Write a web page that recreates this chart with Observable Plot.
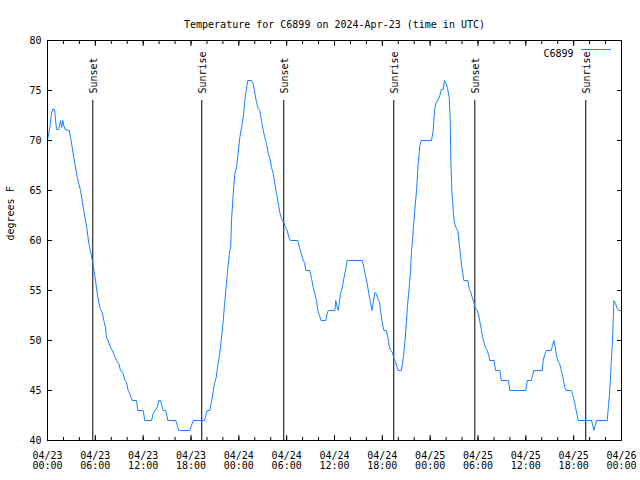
<!DOCTYPE html>
<html>
<head>
<meta charset="utf-8">
<script src="https://cdn.jsdelivr.net/npm/d3@7"></script>
<script src="https://cdn.jsdelivr.net/npm/@observablehq/plot@0.6"></script>
<style>
  html, body { margin: 0; padding: 0; background: #fff; }
</style>
</head>
<body>
<div id="chart"></div>
<script>
const titleText = "Temperature for C6899 on 2024-Apr-23 (time in UTC)";
const yLabel = "degrees F";
const seriesName = "C6899";
const startTime = "2024-04-23T00:00:00Z";
const endTime = "2024-04-26T00:00:00Z";

// hours since 2024-04-23 00:00 UTC
const hours = [0.04,0.29,0.50,0.63,0.88,1.13,1.42,1.63,1.79,1.92,2.04,2.22,2.72,2.89,3.10,3.30,3.51,3.73,4.14,4.55,4.98,5.18,5.39,5.68,5.93,6.11,6.31,6.56,6.86,7.06,7.28,7.40,7.61,7.90,8.12,8.40,8.66,8.94,9.16,9.45,9.70,9.91,10.12,10.41,10.62,11.16,11.33,12.00,12.21,13.05,13.26,13.46,13.76,13.96,14.17,14.34,14.51,14.84,15.09,16.09,16.27,16.47,17.85,18.06,18.28,19.69,19.86,20.03,20.36,20.53,20.74,20.95,21.16,21.36,21.58,21.79,21.99,22.20,22.42,22.62,22.79,22.99,23.08,23.30,23.50,23.71,23.92,24.12,24.34,24.55,24.75,24.96,25.13,25.59,25.80,26.00,26.22,26.43,26.63,26.84,27.06,27.26,27.47,27.68,27.89,28.10,28.31,28.51,28.73,28.94,29.14,29.35,29.64,29.85,30.07,30.27,30.48,31.40,31.61,31.82,32.08,32.28,32.40,32.90,33.12,33.33,33.53,33.74,33.91,34.12,34.33,34.91,35.09,35.21,36.04,36.16,36.29,36.47,36.59,36.75,36.97,37.17,37.38,37.59,39.48,39.68,39.89,40.10,40.30,40.52,40.68,40.86,41.06,41.23,41.43,41.65,41.77,41.99,42.19,42.49,42.69,42.86,43.03,43.28,43.44,43.65,43.87,43.99,44.37,44.53,44.69,44.87,45.03,45.16,45.28,45.41,45.54,45.66,45.79,45.87,46.07,46.29,46.50,46.70,46.91,48.17,48.38,48.55,48.71,48.96,49.21,49.39,49.64,49.80,50.01,50.18,50.39,50.51,50.59,50.72,50.89,51.05,51.30,51.47,51.64,51.81,51.93,52.10,52.22,52.72,52.90,53.06,53.28,53.48,53.69,53.90,54.10,54.28,54.44,54.60,54.78,54.98,55.16,55.36,55.48,56.03,56.20,56.74,56.91,57.83,57.99,60.00,60.17,60.68,60.84,61.00,62.06,62.18,62.34,62.56,63.18,63.35,63.51,63.69,63.85,64.01,64.23,64.39,64.56,64.73,64.89,65.07,65.73,65.89,66.07,66.23,66.40,66.57,68.24,68.40,68.53,68.70,68.87,70.21,70.37,70.50,70.62,70.71,70.84,70.96,71.04,71.25,71.46,71.67,71.97];

const temps = [70.2,71.3,72.7,73.1,73.1,71.1,71.1,72,71.3,72,71.5,71.1,71,70.3,69.3,68.3,67.3,66.3,65,63,61,59.7,59,57.7,56.5,55.5,54.3,53.3,52.8,52,51.3,50.3,50,49.3,49,48.5,48,47.7,47,46.8,46,45.8,45,44.5,44,44,43,43,42,42,42.7,43,43.3,44,44,43.5,43,43,42,42,41.5,41,41,41.5,42,42,42.5,43,43,43.7,44.7,45.7,46.3,47.5,48.5,50,51.5,53.5,55.5,57.2,58.5,59.5,62,64.7,66.7,67.3,68.8,70.3,71.3,72.3,74,75.2,76,76,75.7,74.8,73.8,73.2,73,72,71,70.3,69.7,68.8,68.2,67.3,66.7,65.7,64.7,63.7,62.8,62.2,61.8,61.3,61,60.3,60,60,59.3,58.7,58,57.7,57,57,56.2,55.3,54.7,54,53,52.5,52,52,52.7,53,53,54,53.5,53,53.7,54.7,55.3,56.2,57,58,58,57.3,56.5,55.7,54.7,53.8,53,53.8,54.8,54.7,54.2,53.8,53,51.8,51,51,50.3,49.5,49,48.8,48.2,47.9,47.3,47,47,47.7,48.7,50.2,52,53.5,54.5,55.7,57,59,60,61,63,65,67.7,69.5,70,70,71,73,73.7,74,74.5,75.1,75.1,76,75.7,75.2,74.3,72.2,68.2,65,63,61.7,61.2,61,59.7,58.5,57.5,56.7,56,56,55.2,54.9,54.3,53.8,53.2,53,52.5,51.7,51,50.3,49.7,49.2,49,48.5,48,48,47,47,46,46,45,45,46,46,46.5,47,47,48,48.5,49,49,49.5,50,49.3,48.5,48,47.7,47.2,46.7,46,45.3,45,45,44.5,44,43.3,42.7,42,42,41.5,41,41.5,42,42,43.5,44.7,46.3,47.8,49.5,52,54,53.7,53.2,53,53];

const eventTimes = ["2024-04-23T05:41:00Z","2024-04-23T19:21:00Z","2024-04-24T05:38:00Z","2024-04-24T19:26:00Z","2024-04-25T05:36:00Z","2024-04-25T19:31:00Z"];
const eventLabels = ["Sunset","Sunrise","Sunset","Sunrise","Sunset","Sunrise"];
const eventTop = 74;

const yTicks = [40,45,50,55,60,65,70,75,80];

const t0 = new Date(startTime).getTime();
const data = hours.map((h, i) => ({time: new Date(t0 + h * 3600e3), temp: temps[i]}));
const events = eventTimes.map((t, i) => ({time: new Date(t), label: eventLabels[i], top: eventTop}));
const majorTicks = d3.utcHour.every(6).range(new Date(startTime), new Date(new Date(endTime).getTime() + 1));
const minorTicks = d3.utcHour.every(2).range(new Date(startTime), new Date(new Date(endTime).getTime() + 1));
const fmt = d3.utcFormat("%m/%d\n%H:%M");

const lineColor = "#1580ff";
const lineShape = {draw(ctx, l) { ctx.moveTo(0, 0); ctx.lineTo(0, -l); }};

const plot = Plot.plot({
  width: 640,
  height: 480,
  marginLeft: 47,
  marginRight: 19,
  marginTop: 40,
  marginBottom: 40,
  style: {fontFamily: "'DejaVu Sans Mono', monospace", fontSize: "10px", color: "black", background: "white"},
  x: {type: "utc", domain: [new Date(startTime), new Date(endTime)]},
  y: {domain: [40, 80]},
  marks: [
    Plot.ruleX(events, {x: "time", y1: 40, y2: "top", stroke: "black", strokeWidth: 1}),
    Plot.text(events, {x: "time", y: "top", text: "label", rotate: -90, textAnchor: "start", lineAnchor: "middle", dy: -7, dx: 1, fill: "black"}),
    Plot.line(data, {x: "time", y: "temp", stroke: lineColor, strokeWidth: 1}),
    Plot.frame({stroke: "black"}),
    // labels
    Plot.axisX({anchor: "bottom", ticks: majorTicks, tickSize: 0, tickPadding: 11, tickFormat: fmt, lineHeight: 1, label: null}),
    Plot.axisY({anchor: "left", ticks: yTicks, tickSize: 0, tickPadding: 6, label: null}),
    // inward ticks
    Plot.axisX({anchor: "bottom", ticks: majorTicks, tickSize: -5, fill: "none", label: null}),
    Plot.axisX({anchor: "top", ticks: majorTicks, tickSize: -5, fill: "none", label: null}),
    Plot.axisX({anchor: "bottom", ticks: minorTicks, tickSize: -3, fill: "none", label: null}),
    Plot.axisX({anchor: "top", ticks: minorTicks, tickSize: -3, fill: "none", label: null}),
    Plot.axisY({anchor: "left", ticks: yTicks, tickSize: -5, fill: "none", label: null}),
    Plot.axisY({anchor: "right", ticks: yTicks, tickSize: -5, fill: "none", label: null}),
    // title, y label, legend
    Plot.text([titleText], {frameAnchor: "top", dy: -20, fill: "black"}),
    Plot.text([yLabel], {frameAnchor: "left", rotate: -90, dx: -37, fill: "black"}),
    Plot.text([seriesName], {frameAnchor: "top-right", dx: -48, dy: 9, textAnchor: "end", fill: "black"}),
    Plot.vector([0], {frameAnchor: "top-right", dx: -40, dy: 9, rotate: 90, length: 29, anchor: "start", shape: lineShape, stroke: lineColor, strokeWidth: 1})
  ]
});
document.getElementById("chart").appendChild(plot);
</script>
</body>
</html>
